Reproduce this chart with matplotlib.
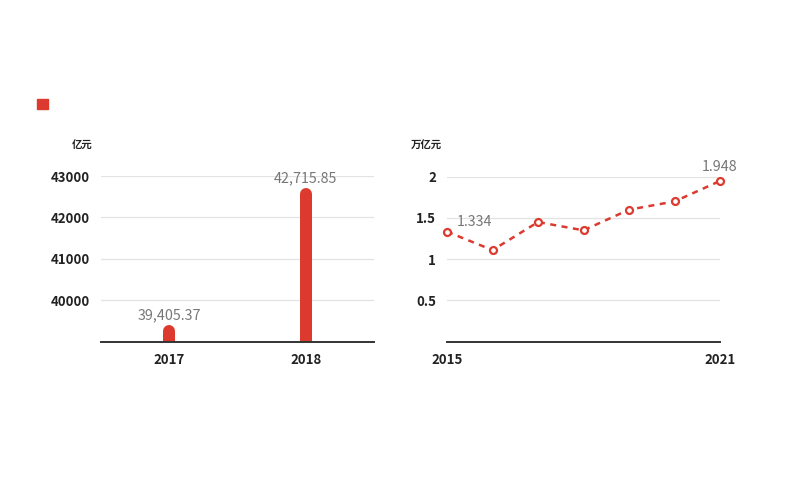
import numpy as np
import matplotlib
matplotlib.use("Agg")
import matplotlib.pyplot as plt
from matplotlib.patches import Rectangle

plt.rcParams['font.family'] = ['Noto Sans CJK SC', 'DejaVu Sans']

# left chart data
bar_years = ['2017', '2018']
bar_values = [39405.37, 42715.85]
bar_ticks = [40000, 41000, 42000, 43000]

# right chart data
line_years = [2015, 2016, 2017, 2018, 2019, 2020, 2021]
line_values = [1.334, 1.11, 1.45, 1.35, 1.60, 1.70, 1.948]
line_ticks = [0.5, 1, 1.5, 2]

red = '#dc3a2e'
grid_c = '#e3e3e3'
tick_c = '#222222'
lab_c = '#777777'

fig = plt.figure(figsize=(8, 5), dpi=100)
fig.patch.set_facecolor('white')

# legend square
fig.patches.append(Rectangle((37 / 800, 1 - 109 / 500), 11 / 800, 10 / 500,
                             transform=fig.transFigure, color=red))

def style(ax):
    for s in ['top', 'right', 'left']:
        ax.spines[s].set_visible(False)
    ax.spines['bottom'].set_color('#333333')
    ax.spines['bottom'].set_linewidth(1.4)
    ax.yaxis.grid(True, color=grid_c, linewidth=0.9)
    ax.set_axisbelow(True)
    ax.tick_params(length=0, labelsize=9.5, colors=tick_c, pad=8)
    for t in ax.get_xticklabels() + ax.get_yticklabels():
        t.set_fontweight('bold')

# ---- left: bar chart
ax1 = fig.add_axes([101 / 800, 1 - 341.7 / 500, 273 / 800, 165.7 / 500])
ax1.set_xlim(-0.5, 1.5)
ax1.set_ylim(39000, 43000)
ax1.set_yticks(bar_ticks)
ax1.set_yticklabels([str(v) for v in bar_ticks])
ax1.set_xticks(range(len(bar_years)))
ax1.set_xticklabels(bar_years)
style(ax1)

bw_px = 12
px_per_unit = 165.7 / 4000
r_units = (bw_px / 2) / px_per_unit
for i, v in enumerate(bar_values):
    ax1.vlines(i, 38000, v - r_units, color=red, linewidth=bw_px * 0.72,
               capstyle='round')
    ax1.text(i, v + 60, f'{v:,.2f}', ha='center', va='bottom',
             color=lab_c, fontsize=10.3)
fig.text(72 / 800, 1 - 146 / 500, '亿元', fontsize=7.5, fontweight='bold',
         color=tick_c, ha='left', va='center')

# ---- right: line chart
ax2 = fig.add_axes([447 / 800, 1 - 341.7 / 500, 273 / 800, 165 / 500])
ax2.set_xlim(2015, 2021)
ax2.set_ylim(0, 2)
ax2.set_yticks(line_ticks)
ax2.set_yticklabels(['0.5', '1', '1.5', '2'])
ax2.set_xticks([2015, 2021])
ax2.set_xticklabels(['2015', '2021'])
style(ax2)
ax2.plot(line_years, line_values, color=red, linewidth=1.8,
         linestyle=(0, (2.4, 2.2)), marker='o', markersize=5,
         markerfacecolor='white', markeredgecolor=red, markeredgewidth=1.6,
         clip_on=False, zorder=3)
ax2.annotate(f'{line_values[0]:.3f}', (line_years[0], line_values[0]),
             xytext=(7, 2), textcoords='offset points', ha='left',
             va='bottom', color=lab_c, fontsize=10.3)
ax2.annotate(f'{line_values[-1]:.3f}', (line_years[-1], line_values[-1]),
             xytext=(0, 5), textcoords='offset points', ha='center',
             va='bottom', color=lab_c, fontsize=10.3)
fig.text(411 / 800, 1 - 146 / 500, '万亿元', fontsize=7.5, fontweight='bold',
         color=tick_c, ha='left', va='center')

fig.savefig('out.png', dpi=100)
